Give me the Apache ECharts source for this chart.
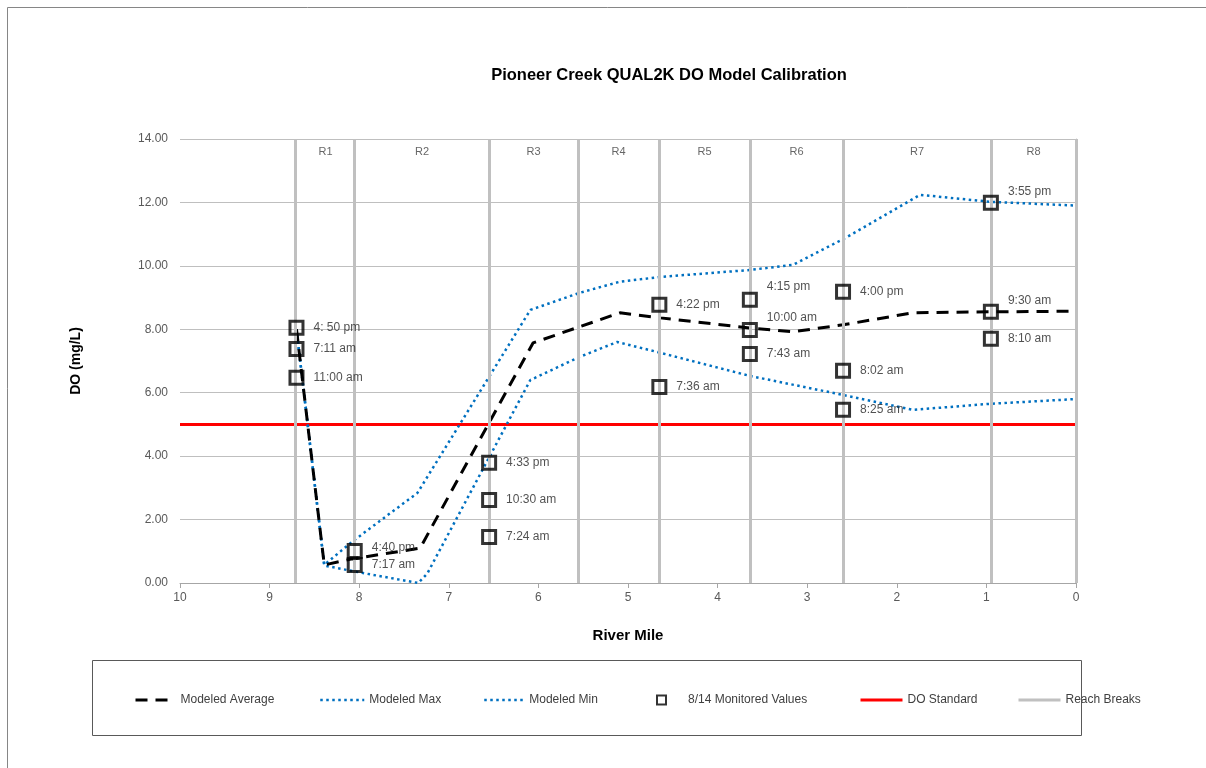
<!DOCTYPE html>
<html>
<head>
<meta charset="utf-8">
<script src="https://cdn.jsdelivr.net/npm/echarts@6/dist/echarts.min.js"></script>
<style>
html,body{margin:0;padding:0;background:#fff;}
#c{width:1206px;height:768px;}
</style>
</head>
<body>
<div id="c"></div>
<script>
// ---------- DATA ----------
const reachNames = ['R1','R2','R3','R4','R5','R6','R7','R8'];
const reachBreaks = [8.705, 8.047, 6.551, 5.558, 4.654, 3.638, 2.600, 0.949, 0];

const avgMile = [8.70, 8.39, 8.08, 7.32, 6.06, 5.54, 5.09, 4.64, 3.64, 3.16, 2.60, 1.82, 0.96, 0.00];
const avgDO   = [8.00, 0.57, 0.76, 1.10, 7.57, 8.08, 8.52, 8.36, 8.04, 7.92, 8.14, 8.52, 8.55, 8.57];

const maxMile = [8.70, 8.39, 8.08, 7.35, 6.09, 5.54, 5.09, 4.64, 3.64, 3.16, 2.56, 1.74, 0.96, 0.00];
const maxDO   = [8.00, 0.57, 1.30, 2.84, 8.61, 9.15, 9.50, 9.65, 9.87, 10.03, 10.90, 12.24, 12.02, 11.90];

const minMile = [8.70, 8.39, 7.97, 7.34, 7.24, 6.09, 5.54, 5.12, 4.64, 3.64, 2.60, 1.82, 0.96, 0.00];
const minDO   = [8.00, 0.55, 0.32, 0.00, 0.30, 6.40, 7.13, 7.60, 7.26, 6.53, 5.93, 5.46, 5.65, 5.80];

const monMile = [8.70, 8.70, 8.70, 8.05, 8.05, 6.55, 6.55, 6.55, 4.65, 4.65, 3.64, 3.64, 3.64, 2.60, 2.60, 2.60, 0.95, 0.95, 0.95];
const monDO   = [8.05, 7.38, 6.47, 1.01, 0.57, 3.79, 2.62, 1.45, 8.77, 6.18, 8.93, 7.98, 7.22, 9.18, 6.69, 5.46, 11.99, 8.55, 7.70];
const monTime = ['4: 50 pm','7:11 am','11:00 am','4:40 pm','7:17 am','4:33 pm','10:30 am','7:24 am','4:22 pm','7:36 am','4:15 pm','10:00 am','7:43 am','4:00 pm','8:02 am','8:25 am','3:55 pm','9:30 am','8:10 am'];

const doStandard = 5.0;
const xTicks = [0,1,2,3,4,5,6,7,8,9,10];
const yTicks = [0,2,4,6,8,10,12,14];

// ---------- CHART ----------
const FONT = "'Liberation Sans', Arial, sans-serif";
const pairs = (xs, ys) => xs.map((x, i) => [x, ys[i]]);

// label vertical raise (pixels) for a few monitored labels
const labelRaise = {3: 3, 10: 13, 11: 12, 16: 11, 17: 11};

const monData = monMile.map((m, i) => ({
  value: [m, monDO[i]],
  label: { offset: [0, -(labelRaise[i] || 0)] }
}));

const reachLabelData = reachNames.map((n, i) => ({
  name: n,
  value: [(reachBreaks[i] + reachBreaks[i + 1]) / 2, 13.6]
}));

const chart = echarts.init(document.getElementById('c'), null, {renderer: 'canvas'});

const legendText = { fontFamily: FONT, fontSize: 12, color: '#404040' };
const mkLegend = (name, left, w, h, extra) => Object.assign({
  data: [name], left: left, top: 689, itemWidth: w, itemHeight: h || 14,
  textStyle: legendText, selectedMode: false,
  itemStyle: { opacity: 0 }
}, extra || {});

const option = {
  animation: false,
  backgroundColor: '#fff',
  title: {
    text: 'Pioneer Creek QUAL2K DO Model Calibration',
    left: 664, top: 62, textAlign: 'center',
    textStyle: { fontFamily: FONT, fontSize: 16.5, fontWeight: 'bold', color: '#000' }
  },
  graphic: [
    { type: 'rect', shape: { x: 7.5, y: 7.5, width: 1210, height: 780 }, style: { fill: 'none', stroke: '#868686', lineWidth: 1 }, silent: true, z: -10 },
    { type: 'rect', shape: { x: 92.5, y: 660.5, width: 989, height: 75 }, style: { fill: 'none', stroke: '#595959', lineWidth: 1 }, silent: true, z: -10 }
  ],
  legend: [
    mkLegend('Modeled Average', 129, 40, 14, { lineStyle: { width: 3 } }),
    mkLegend('Modeled Max', 314, 44, 14, { lineStyle: { width: 2.5 } }),
    mkLegend('Modeled Min', 478, 40, 14, { lineStyle: { width: 2.5 } }),
    mkLegend('8/14 Monitored Values', 651, 9, 9, {
      itemStyle: {},
      textStyle: Object.assign({}, legendText, { padding: [0, 0, 0, 17] }) }),
    mkLegend('DO Standard', 854, 42, 14, { lineStyle: { width: 3 } }),
    mkLegend('Reach Breaks', 1012, 42, 14, { lineStyle: { width: 3 } })
  ],
  grid: { left: 180, right: 130, top: 139, bottom: 185, containLabel: false },
  xAxis: {
    type: 'value', min: 0, max: 10, interval: 1, inverse: true,
    axisLine: { show: true, lineStyle: { color: '#a6a6a6', width: 1 } },
    axisTick: { show: true, length: 5, lineStyle: { color: '#a6a6a6' } },
    splitLine: { show: false },
    axisLabel: { fontFamily: FONT, fontSize: 12, color: '#595959', margin: 9,
      formatter: v => xTicks.indexOf(v) >= 0 ? String(v) : '' },
    name: 'River Mile', nameLocation: 'middle', nameGap: 45,
    nameTextStyle: { fontFamily: FONT, fontSize: 15, fontWeight: 'bold', color: '#000' }
  },
  yAxis: {
    type: 'value', min: 0, max: 14, interval: 2,
    axisLine: { show: true, lineStyle: { color: '#bfbfbf' } },
    axisTick: { show: false },
    splitLine: { show: true, lineStyle: { color: '#bfbfbf', width: 1 } },
    axisLabel: { fontFamily: FONT, fontSize: 12, color: '#595959', margin: 12,
      formatter: v => yTicks.indexOf(v) >= 0 ? v.toFixed(2) : '' },
    name: 'DO (mg/L)', nameLocation: 'middle', nameGap: 97, nameRotate: 90,
    nameTextStyle: { fontFamily: FONT, fontSize: 14, fontWeight: 'bold', color: '#000' }
  },
  series: [
    {
      name: 'Reach Breaks', type: 'line', data: [], z: 1,
      symbol: 'none',
      lineStyle: { color: '#c0c0c0', width: 3 }, itemStyle: { color: '#c0c0c0' },
      markLine: {
        silent: true, symbol: ['none', 'none'], label: { show: false },
        lineStyle: { color: '#c0c0c0', width: 3, type: 'solid' },
        data: reachBreaks.map(m => ({ xAxis: m }))
      }
    },
    {
      name: 'DO Standard', type: 'line', data: [[10, doStandard], [0, doStandard]], z: 2,
      symbol: 'none', lineStyle: { color: '#ff0000', width: 3 }, itemStyle: { color: '#ff0000' }
    },
    {
      name: 'Modeled Max', type: 'line', data: pairs(maxMile, maxDO), z: 3,
      symbol: 'none', lineStyle: { color: '#0070c0', width: 2.5, type: [2.5, 3.5] }, itemStyle: { color: '#0070c0' }
    },
    {
      name: 'Modeled Min', type: 'line', data: pairs(minMile, minDO), z: 3,
      symbol: 'none', lineStyle: { color: '#0070c0', width: 2.5, type: [2.5, 3.5] }, itemStyle: { color: '#0070c0' }
    },
    {
      name: 'Modeled Average', type: 'line', data: pairs(avgMile, avgDO), z: 4,
      symbol: 'none', lineStyle: { color: '#000', width: 3, type: [12, 8] }, itemStyle: { color: '#000' }
    },
    {
      name: '8/14 Monitored Values', type: 'scatter', data: monData, z: 5,
      symbol: 'rect', symbolSize: 13,
      itemStyle: { color: 'rgba(255,255,255,0)', borderColor: '#000', borderWidth: 3 },
      label: {
        show: true, position: 'right', distance: 9,
        fontFamily: FONT, fontSize: 12, color: '#262626',
        formatter: p => monTime[p.dataIndex]
      }
    },
    {
      name: 'reachLabels', type: 'scatter', data: reachLabelData, z: 5,
      symbolSize: 0, silent: true,
      label: { show: true, position: 'inside', formatter: p => p.name,
        fontFamily: FONT, fontSize: 11, color: '#404040' }
    }
  ]
};
chart.setOption(option);
</script>
</body>
</html>
